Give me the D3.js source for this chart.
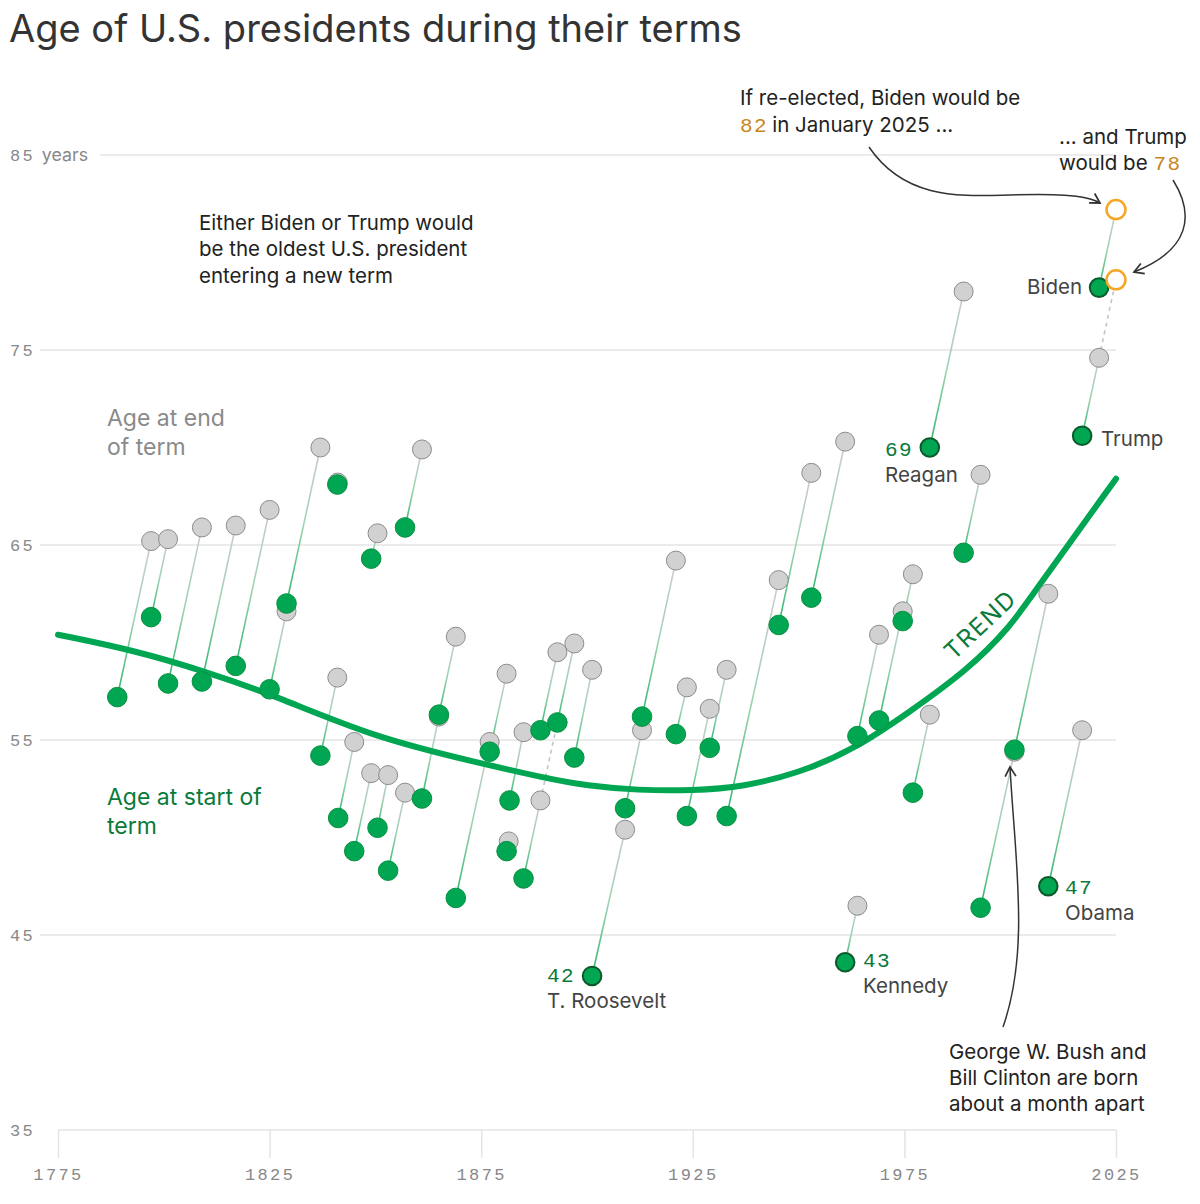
<!DOCTYPE html>
<html><head><meta charset="utf-8">
<script src="https://cdn.jsdelivr.net/npm/d3@7"></script>
<style>
body{margin:0;background:#fff;}
svg{display:block;}
.sans{font-family:Inter,"Noto Sans",sans-serif;}
.mono{font-family:"Liberation Mono","DejaVu Sans Mono",monospace;}
</style></head>
<body>
<svg id="chart" width="1200" height="1204"></svg>
<script>
const presidents = ["Washington","J. Adams","Jefferson","Madison","Monroe","J.Q. Adams","Jackson","Van Buren","W.H. Harrison","Tyler","Polk","Taylor","Fillmore","Pierce","Buchanan","Lincoln","A. Johnson","Grant","Hayes","Garfield","Arthur","Cleveland","B. Harrison","Cleveland II","McKinley","T. Roosevelt","Taft","Wilson","Harding","Coolidge","Hoover","F. Roosevelt","Truman","Eisenhower","Kennedy","L. Johnson","Nixon","Ford","Carter","Reagan","G.H.W. Bush","Clinton","G.W. Bush","Obama","Trump","Biden"];
const startYears = [1789,1797,1801,1809,1817,1825,1829,1837,1841,1841.2,1845,1849,1850.5,1853,1857,1861,1865,1869,1877,1881,1881.7,1885,1889,1893,1897,1901.2,1909,1913,1921,1923.6,1929,1933,1945.3,1953,1961,1963.9,1969,1974.6,1977,1981,1989,1993,2001,2009,2017,2021];
const endYears = [1797,1801,1809,1817,1825,1829,1837,1841,1841.1,1845,1849,1850.5,1853,1857,1861,1865,1869,1877,1881,1881.5,1885,1889,1893,1897,1901.2,1909,1913,1921,1923.6,1929,1933,1945.3,1953,1961,1963.9,1969,1974.6,1977,1981,1989,1993,2001,2009,2017,2021,2025];
const startAges = [57.2,61.3,57.9,58.0,58.8,57.6,62.0,54.2,68.1,51.0,49.3,64.3,50.5,48.3,65.9,52.0,56.3,46.9,54.4,49.3,51.9,47.9,55.5,55.9,54.1,42.9,51.5,56.2,55.3,51.1,54.6,51.1,60.9,62.3,43.6,55.2,56.0,61.1,52.3,70.0,64.6,46.4,54.5,47.5,70.6,78.2];
const endAges = [65.2,65.3,65.9,66.0,66.8,61.6,70.0,58.2,68.2,54.9,53.3,65.6,53.2,52.3,69.9,56.2,60.3,54.9,58.4,49.8,55.4,51.9,59.5,59.95,58.6,50.4,55.5,64.2,57.7,56.6,58.6,63.2,68.7,70.3,46.5,60.4,61.6,63.5,56.3,78.0,68.6,54.4,62.5,55.5,74.6,82.2];
const highlighted = ["T. Roosevelt","Kennedy","Reagan","Obama","Trump","Biden"];
const trumpNextYear = 2025, trumpNextAge = 78.6;
const trendYears = [1775,1793,1810,1826,1850,1875,1890,1900,1912,1925,1937,1950,1963,1976,1990,2000,2005.4,2025];
const trendAges = [60.4,59.6,58.5,57.3,55.1,53.8,53.05,52.65,52.42,52.4,52.6,53.3,54.5,56.4,58.6,60.8,62.5,68.4];
const yTicks = [35,45,55,65,75,85];
const xTicks = [1775,1825,1875,1925,1975,2025];

const svg = d3.select("#chart");
const x = d3.scaleLinear().domain([1775,2025]).range([58,1116]);
const y = d3.scaleLinear().domain([35,85]).range([1130,155]);
const GREEN = "#00a651", DARKG = "#0a7a3a", ORANGE = "#f5a623";
const FS = 20.5;

// title
svg.append("text").attr("class","sans").attr("x",9).attr("y",42)
  .attr("font-size",38).attr("fill","#333").text("Age of U.S. presidents during their terms");

// gridlines
yTicks.forEach(t=>{
  const x0 = t===85 ? 100 : (t===35 ? x(1775) : 40);
  svg.append("line").attr("x1",x0).attr("x2",x(2025)).attr("y1",y(t)).attr("y2",y(t))
    .attr("stroke","#e4e4e4").attr("stroke-width",1.5);
  const tx = svg.append("text").attr("x",10).attr("y",y(t)+6).attr("font-size",17).attr("fill","#888");
  tx.append("tspan").attr("class","mono").attr("letter-spacing",2.2).text(t);
  if(t===85) tx.append("tspan").attr("class","sans").attr("dx",7).attr("font-size",17.8).text("years");
});
const xAxis = d3.axisBottom(x).tickValues(xTicks).tickSize(28).tickFormat(d3.format("d"));
const gx = svg.append("g").attr("transform",`translate(0,${y(35)})`).call(xAxis);
gx.select(".domain").remove();
gx.selectAll(".tick line").attr("stroke","#e4e4e4").attr("stroke-width",1.5);
gx.selectAll(".tick text").attr("class","mono").attr("font-size",17).attr("fill","#888")
  .attr("letter-spacing",2.4).attr("dy","1.1em");

// data rows
const rows = presidents.map((n,i)=>({name:n,sy:startYears[i],sa:startAges[i],ey:endYears[i],ea:endAges[i],i}));
const defs = svg.append("defs");
rows.forEach(r=>{
  const g = defs.append("linearGradient").attr("id","g"+r.i).attr("gradientUnits","userSpaceOnUse")
    .attr("x1",x(r.sy)).attr("y1",y(r.sa)).attr("x2",x(r.ey)).attr("y2",y(r.ea));
  g.append("stop").attr("offset","0").attr("stop-color","#2eb56c");
  g.append("stop").attr("offset","0.5").attr("stop-color","#9fd3b4");
  g.append("stop").attr("offset","1").attr("stop-color","#cccccc");
});
svg.append("g").selectAll("line").data(rows).join("line")
  .attr("x1",d=>x(d.sy)).attr("y1",d=>y(d.sa)).attr("x2",d=>x(d.ey)).attr("y2",d=>y(d.ea))
  .attr("stroke",d=>`url(#g${d.i})`).attr("stroke-width",1.6);

// dashed connections
const cl1 = rows[21], cl2 = rows[23], tr = rows[44];
[[cl1.ey,cl1.ea,cl2.sy,cl2.sa],[tr.ey,tr.ea,trumpNextYear,trumpNextAge]].forEach(s=>{
  svg.append("line").attr("x1",x(s[0])).attr("y1",y(s[1])).attr("x2",x(s[2])).attr("y2",y(s[3]))
    .attr("stroke","#c4c4c4").attr("stroke-width",1.6).attr("stroke-dasharray","4,4");
});

// trend
const trend = trendYears.map((t,i)=>[t,trendAges[i]]);
svg.append("path").datum(trend).attr("fill","none").attr("stroke",GREEN).attr("stroke-width",6)
  .attr("stroke-linecap","round")
  .attr("d",d3.line().x(d=>x(d[0])).y(d=>y(d[1])).curve(d3.curveBasis));
svg.append("text").attr("class","sans").attr("font-size",24).attr("fill",DARKG).attr("letter-spacing",1.5)
  .attr("text-anchor","middle").attr("transform",`translate(${x(1994.3)},${y(60.6)}) rotate(-43)`).text("TREND");

// gray end dots
svg.append("g").selectAll("circle").data(rows.slice(0,-1)).join("circle")
  .attr("cx",d=>x(d.ey)).attr("cy",d=>y(d.ea)).attr("r",9.5)
  .attr("fill","#d1d1d1").attr("stroke","#8c8c8c").attr("stroke-width",1);
// green start dots
svg.append("g").selectAll("circle").data(rows).join("circle")
  .attr("cx",d=>x(d.sy)).attr("cy",d=>y(d.sa)).attr("r",d=>highlighted.includes(d.name)?9.3:9.8)
  .attr("fill",GREEN)
  .attr("stroke",d=>highlighted.includes(d.name)?"#0b5a2c":"#089142")
  .attr("stroke-width",d=>highlighted.includes(d.name)?2:1);
// orange hypothetical
const bd = rows[45];
[[bd.ey,bd.ea],[trumpNextYear,trumpNextAge]].forEach(p=>{
  svg.append("circle").attr("cx",x(p[0])).attr("cy",y(p[1])).attr("r",9.5)
    .attr("fill","#fff").attr("stroke",ORANGE).attr("stroke-width",2.5);
});

// text helpers
function txt(xp,yp,s,opt={}){
  return svg.append("text").attr("class",opt.mono?"mono":"sans").attr("x",xp).attr("y",yp)
    .attr("font-size",opt.size||FS).attr("fill",opt.color||"#222")
    .attr("text-anchor",opt.anchor||"start").attr("letter-spacing",opt.ls||0).text(s);
}
// series labels
txt(107,426,"Age at end",{size:23,color:"#8a8a8a"});
txt(107,455,"of term",{size:23,color:"#8a8a8a"});
txt(107,805,"Age at start of",{size:23,color:DARKG});
txt(107,834,"term",{size:23,color:DARKG});

// president labels
function numLabel(xp,yp,n,name){
  txt(xp,yp,n,{mono:true,size:21,color:DARKG,ls:1.5});
  txt(xp,yp+26,name,{color:"#444"});
}
numLabel(885,456,"69","Reagan");
numLabel(547,982,"42","T. Roosevelt");
numLabel(863,967,"43","Kennedy");
numLabel(1065,894,"47","Obama");
txt(1082,294,"Biden",{color:"#444",anchor:"end"});
txt(1101,446,"Trump",{color:"#444"});

// annotations
txt(199,230,"Either Biden or Trump would");
txt(199,256,"be the oldest U.S. president");
txt(199,283,"entering a new term");
txt(740,105,"If re-elected, Biden would be");
const a2 = svg.append("text").attr("class","sans").attr("x",740).attr("y",132).attr("font-size",FS).attr("fill","#222");
a2.append("tspan").attr("class","mono").attr("fill","#c9861c").attr("font-size",21).attr("letter-spacing",1.5).text("82");
a2.append("tspan").attr("dx",4).text("in January 2025 ...");
txt(1059,144,"... and Trump");
const a3 = svg.append("text").attr("class","sans").attr("x",1059).attr("y",170).attr("font-size",FS).attr("fill","#222");
a3.append("tspan").text("would be ");
a3.append("tspan").attr("class","mono").attr("fill","#c9861c").attr("font-size",21).attr("letter-spacing",1.5).text("78");
txt(949,1059,"George W. Bush and");
txt(949,1085,"Bill Clinton are born");
txt(949,1111,"about a month apart");

// arrows
defs.append("marker").attr("id","arr").attr("viewBox","0 0 10 10").attr("refX",8).attr("refY",5)
  .attr("markerWidth",9).attr("markerHeight",9).attr("orient","auto-start-reverse")
  .append("path").attr("d","M1,1 L8,5 L1,9").attr("fill","none").attr("stroke","#333").attr("stroke-width",1.3);
function arrow(d){
  svg.append("path").attr("d",d).attr("fill","none").attr("stroke","#333").attr("stroke-width",1.5)
    .attr("marker-end","url(#arr)");
}
arrow("M869,147 C905,200 960,196 1010,195 C1050,194 1085,194 1100,203");
arrow("M1173,180 C1195,215 1190,250 1134,272");
arrow("M1003,1027 C1030,950 1015,860 1010,767");
</script>
</body></html>
